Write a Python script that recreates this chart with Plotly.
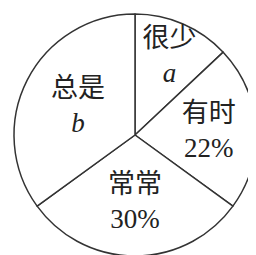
import plotly.graph_objects as go

labels = ["很少", "有时", "常常", "总是"]
values = [13, 22, 30, 35]
value_texts = ["<i>a</i>", "22%", "30%", "<i>b</i>"]

texts = [f"{l}<br>{v}" for l, v in zip(labels, value_texts)]

fig = go.Figure(go.Pie(
    labels=labels,
    values=values,
    text=texts,
    textinfo="text",
    textposition="inside",
    insidetextorientation="horizontal",
    sort=False,
    direction="clockwise",
    rotation=0,
    marker=dict(colors=["white"] * 4, line=dict(color="#333333", width=1.5)),
    textfont=dict(family="Liberation Serif, Noto Sans CJK SC", size=27, color="#222222"),
    hoverinfo="none",
))

fig.update_layout(
    width=256, height=255,
    autosize=False,
    margin=dict(l=6, r=8, t=6, b=7),
    showlegend=False,
    paper_bgcolor="white",
    plot_bgcolor="white",
    uniformtext=dict(minsize=27, mode="show"),
)

fig.write_html("out.html")
